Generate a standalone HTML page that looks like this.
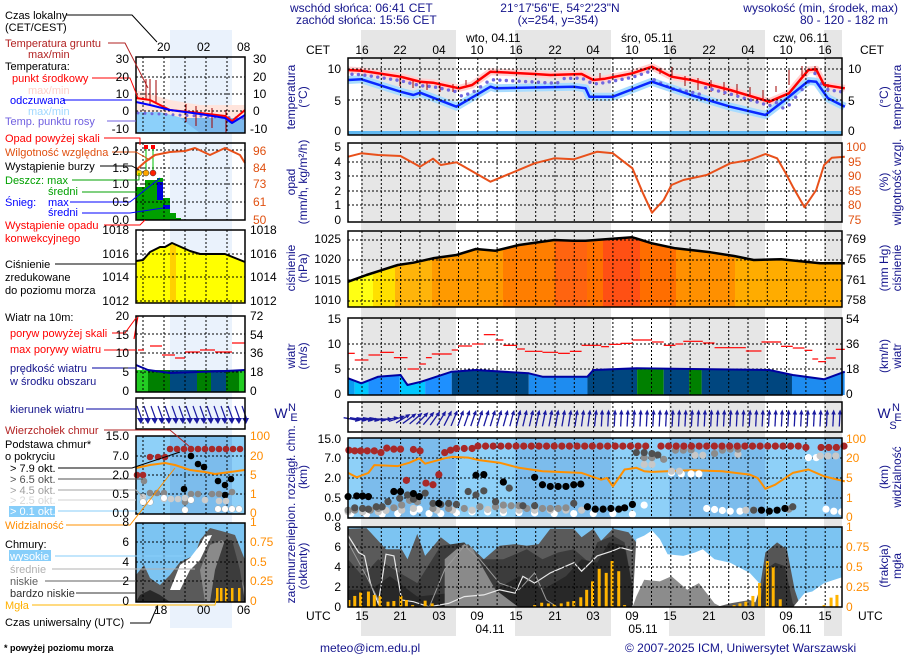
<!DOCTYPE html>
<html><head><meta charset="utf-8"><style>
body{margin:0;background:#fff;}
svg{display:block;font-family:"Liberation Sans",sans-serif;}
</style></head><body>
<svg id="s" width="910" height="660" viewBox="0 0 910 660" xmlns="http://www.w3.org/2000/svg">
<g id="bg"></g>
<g id="g"></g>
<g font-size="12" fill="#000">
<g fill="#14148c">
<text x="290" y="12">wschód słońca: 06:41 CET</text>
<text x="296" y="24">zachód słońca: 15:56 CET</text>
<text x="560" y="12" text-anchor="middle">21°17'56"E, 54°2'23"N</text>
<text x="558" y="24" text-anchor="middle">(x=254, y=354)</text>
<text x="898" y="12" text-anchor="end">wysokość (min, środek, max)</text>
<text x="844" y="24" text-anchor="middle">80 - 120 - 182 m</text>
</g>
<text x="466" y="42">wto, 04.11</text>
<text x="621" y="42">śro, 05.11</text>
<text x="773" y="42">czw, 06.11</text>
<text x="306" y="54">CET</text><text x="860" y="54">CET</text>
<g text-anchor="middle">
<text x="362" y="54">16</text><text x="400" y="54">22</text><text x="439" y="54">04</text><text x="477" y="54">10</text>
<text x="516" y="54">16</text><text x="555" y="54">22</text><text x="593" y="54">04</text><text x="632" y="54">10</text>
<text x="670" y="54">16</text><text x="709" y="54">22</text><text x="748" y="54">04</text><text x="786" y="54">10</text><text x="825" y="54">16</text>
<text x="362" y="620">15</text><text x="400" y="620">21</text><text x="439" y="620">03</text><text x="477" y="620">09</text>
<text x="516" y="620">15</text><text x="555" y="620">21</text><text x="593" y="620">03</text><text x="632" y="620">09</text>
<text x="670" y="620">15</text><text x="709" y="620">21</text><text x="748" y="620">03</text><text x="786" y="620">09</text><text x="825" y="620">15</text>
<text x="490" y="633">04.11</text><text x="643" y="633">05.11</text><text x="797" y="633">06.11</text>
</g>
<text x="306" y="620">UTC</text><text x="858" y="620">UTC</text>
<g text-anchor="end">
<text x="341" y="73">10</text><text x="341" y="105">5</text><text x="341" y="135">0</text>
<text x="341" y="151">5</text><text x="341" y="166">4</text><text x="341" y="180">3</text><text x="341" y="195">2</text><text x="341" y="209">1</text><text x="341" y="224">0</text>
<text x="341" y="243">1025</text><text x="341" y="263">1020</text><text x="341" y="284">1015</text><text x="341" y="304">1010</text>
<text x="341" y="323">15</text><text x="341" y="348">10</text><text x="341" y="373">5</text><text x="341" y="398">0</text>
<text x="341" y="443">15.0</text><text x="341" y="462">7.0</text><text x="341" y="482">2.0</text><text x="341" y="502">0.5</text><text x="341" y="521">0.0</text>
<text x="341" y="531">8</text><text x="341" y="551">6</text><text x="341" y="571">4</text><text x="341" y="591">2</text><text x="341" y="611">0</text>
</g>
<g>
<text x="848" y="73">10</text><text x="848" y="105">5</text><text x="848" y="135">0</text>
<g fill="#e05010"><text x="846" y="151">100</text><text x="848" y="166">95</text><text x="848" y="180">90</text><text x="848" y="195">85</text><text x="848" y="209">80</text><text x="848" y="224">75</text></g>
<text x="846" y="243">769</text><text x="846" y="263">765</text><text x="846" y="284">761</text><text x="846" y="304">758</text>
<text x="846" y="323">54</text><text x="846" y="348">36</text><text x="846" y="373">18</text><text x="846" y="398">0</text>
<g fill="#ff8c00"><text x="846" y="443">100</text><text x="846" y="462">20</text><text x="846" y="482">5</text><text x="846" y="502">1</text><text x="846" y="521">0</text>
<text x="846" y="531">1</text><text x="846" y="551">0.75</text><text x="846" y="571">0.5</text><text x="846" y="591">0.25</text><text x="846" y="611">0</text></g>
</g>
<g fill="#14148c" text-anchor="middle">
<text transform="translate(295,97) rotate(-90)">temperatura</text>
<text transform="translate(307,97) rotate(-90)">(°C)</text>
<text transform="translate(295,182) rotate(-90)">opad</text>
<text transform="translate(307,182) rotate(-90)">(mm/h, kg/m²/h)</text>
<text transform="translate(295,268) rotate(-90)">ciśnienie</text>
<text transform="translate(307,268) rotate(-90)">(hPa)</text>
<text transform="translate(295,356) rotate(-90)">wiatr</text>
<text transform="translate(307,356) rotate(-90)">(m/s)</text>
<text transform="translate(295,477) rotate(-90)">pion. rozciągł. chm.</text>
<text transform="translate(307,477) rotate(-90)">(km)</text>
<text transform="translate(295,566) rotate(-90)">zachmurzenie</text>
<text transform="translate(307,566) rotate(-90)">(oktanty)</text>
<text transform="translate(888,97) rotate(-90)">(°C)</text>
<text transform="translate(901,97) rotate(-90)">temperatura</text>
<text transform="translate(888,182) rotate(-90)">(%)</text>
<text transform="translate(901,182) rotate(-90)">wilgotność wzgl.</text>
<text transform="translate(888,268) rotate(-90)">(mm Hg)</text>
<text transform="translate(901,268) rotate(-90)">ciśnienie</text>
<text transform="translate(888,356) rotate(-90)">(km/h)</text>
<text transform="translate(901,356) rotate(-90)">wiatr</text>
<text transform="translate(888,477) rotate(-90)">(km)</text>
<text transform="translate(901,477) rotate(-90)">widzialność</text>
<text transform="translate(888,566) rotate(-90)">(frakcja)</text>
<text transform="translate(901,566) rotate(-90)">mgła</text>
<text x="884" y="418" font-size="14">W</text><text x="896" y="411" font-size="11">N</text><text x="898" y="421" font-size="11">E</text><text x="893" y="429" font-size="11">S</text>
<text x="281" y="418" font-size="14">W</text><text x="292" y="411" font-size="11">N</text><text x="294" y="421" font-size="11">E</text>
</g>
<g fill="#14148c"><text x="320" y="652">meteo@icm.edu.pl</text><text x="625" y="652">© 2007-2025 ICM, Uniwersytet Warszawski</text></g>
<text x="4" y="651" font-size="9" font-weight="bold">* powyżej poziomu morza</text>

<g font-size="11">
<text x="5" y="19">Czas lokalny</text><text x="5" y="31">(CET/CEST)</text>
<text x="5" y="47" fill="#b22222">Temperatura gruntu</text><text x="28" y="58" fill="#b22222">max/min</text>
<text x="5" y="70">Temperatura:</text>
<text x="12" y="82" fill="#ff0000">punkt środkowy</text>
<text x="28" y="94" fill="#ffd0c8">max/min</text>
<text x="10" y="104" fill="#0000ff">odczuwana</text>
<text x="28" y="115" fill="#a0d8ff">max/min</text>
<text x="5" y="125" fill="#7060e0">Temp. punktu rosy</text>
<text x="5" y="142" fill="#ff0000">Opad powyżej skali</text>
<text x="5" y="156" fill="#e05010">Wilgotność względna</text>
<text x="5" y="170">Wystąpienie burzy</text>
<text x="5" y="184" fill="#00a000">Deszcz: max</text><text x="48" y="195" fill="#00a000">średni</text>
<text x="5" y="206" fill="#0000ff">Śnieg:</text><text x="48" y="206" fill="#0000ff">max</text><text x="48" y="216" fill="#0000ff">średni</text>
<text x="5" y="229" fill="#ff0000">Wystąpienie opadu</text><text x="5" y="242" fill="#ff0000">konwekcyjnego</text>
<text x="5" y="268">Ciśnienie</text><text x="5" y="281">zredukowane</text><text x="5" y="294">do poziomu morza</text>
<text x="5" y="321">Wiatr na 10m:</text>
<text x="10" y="337" fill="#ff0000">poryw powyżej skali</text>
<text x="10" y="353" fill="#ff0000">max porywy wiatru</text>
<text x="10" y="372" fill="#14148c">prędkość wiatru</text><text x="10" y="385" fill="#14148c">w środku obszaru</text>
<text x="10" y="413" fill="#14148c">kierunek wiatru</text>
<text x="5" y="434" fill="#b22222">Wierzchołek chmur</text>
<text x="5" y="448">Podstawa chmur*</text><text x="5" y="460">o pokryciu</text>
<text x="10" y="472">&gt; 7.9 okt.</text>
<text x="10" y="483" fill="#505050">&gt; 6.5 okt.</text>
<text x="10" y="494" fill="#a0a0a0">&gt; 4.5 okt.</text>
<text x="10" y="504" fill="#d8d8d8">&gt; 2.5 okt.</text>
<rect x="9" y="506" width="46" height="11" fill="#87cefa"/><text x="10" y="515" fill="#fff">&gt; 0.1 okt.</text>
<text x="5" y="529" fill="#ff8c00">Widzialność</text>
<text x="5" y="548">Chmury:</text>
<rect x="9" y="550" width="42" height="11" fill="#87cefa"/><text x="10" y="560" fill="#fff">wysokie</text>
<text x="10" y="573" fill="#b0b0b0">średnie</text>
<text x="10" y="585" fill="#606060">niskie</text>
<text x="10" y="597" fill="#303030">bardzo niskie</text>
<text x="5" y="609" fill="#ffb000">Mgła</text>
<text x="5" y="626">Czas uniwersalny (UTC)</text>
</g>
<text x="157" y="51">20</text><text x="197" y="51">02</text><text x="237" y="51">08</text>
<text x="154" y="614">18</text><text x="197" y="614">00</text><text x="237" y="614">06</text>
<g text-anchor="end">
<text x="129" y="63">30</text><text x="129" y="81">20</text><text x="129" y="98">10</text><text x="129" y="115">0</text><text x="129" y="133">-10</text>
<text x="129" y="155">2.0</text><text x="129" y="172">1.5</text><text x="129" y="188">1.0</text><text x="129" y="206">0.5</text><text x="129" y="224">0.0</text>
<text x="129" y="234">1018</text><text x="129" y="258">1016</text><text x="129" y="281">1014</text><text x="129" y="305">1012</text>
<text x="129" y="320">20</text><text x="129" y="339">15</text><text x="129" y="357">10</text><text x="129" y="376">5</text><text x="129" y="395">0</text>
<text x="129" y="440">15.0</text><text x="129" y="460">7.0</text><text x="129" y="479">2.0</text><text x="129" y="498">0.5</text><text x="129" y="517">0.0</text>
<text x="129" y="526">8</text><text x="129" y="546">6</text><text x="129" y="566">4</text><text x="129" y="585">2</text><text x="129" y="605">0</text>
</g>
<g>
<text x="253" y="63">30</text><text x="253" y="81">20</text><text x="253" y="98">10</text><text x="253" y="115">0</text><text x="250" y="133">-10</text>
<g fill="#e05010"><text x="253" y="155">96</text><text x="253" y="172">84</text><text x="253" y="188">73</text><text x="253" y="206">61</text><text x="253" y="224">50</text></g>
<text x="250" y="234">1018</text><text x="250" y="258">1016</text><text x="250" y="281">1014</text><text x="250" y="305">1012</text>
<text x="250" y="320">72</text><text x="250" y="339">54</text><text x="250" y="357">36</text><text x="250" y="376">18</text><text x="250" y="395">0</text>
<g fill="#ff8c00"><text x="250" y="440">100</text><text x="250" y="460">20</text><text x="250" y="479">5</text><text x="250" y="498">1</text><text x="250" y="517">0</text>
<text x="250" y="526">1</text><text x="250" y="546">0.75</text><text x="250" y="566">0.5</text><text x="250" y="585">0.25</text><text x="250" y="605">0</text></g>
</g>
</g>
</svg>
<script>
(function(){
var NS="http://www.w3.org/2000/svg";
var BG=document.getElementById('bg'),G=document.getElementById('g');
function el(t,a,p){var e=document.createElementNS(NS,t);for(var k in a)e.setAttribute(k,a[k]);(p||G).appendChild(e);return e;}
function X(z){return 300+z/2.557;}
function pts(a){return a.map(function(p){return p[0].toFixed(1)+','+p[1].toFixed(1);}).join(' ');}
function line(a,c,w,extra){var o={points:pts(a),fill:'none',stroke:c,'stroke-width':w,'stroke-linejoin':'round'};for(var k in extra)o[k]=extra[k];return el('polyline',o);}
function area(a,base,c,p){var b=a.slice();b.push([a[a.length-1][0],base]);b.unshift([a[0][0],base]);return el('polygon',{points:pts(b),fill:c},p);}
function rect(x,y,w,h,c,p){return el('rect',{x:x,y:y,width:w,height:h,fill:c},p);}
var L=348,R=842;
rect(170,30,62,598,'#eaf2fc',BG);
[[361,456],[515,611],[669,765],[824,842]].forEach(function(b){rect(b[0],30,b[1]-b[0],606,'#e6e6e6',BG);});
var gridX=[];for(var k=0;k<25;k++)gridX.push(362+19.3*k);
function vgrid(y1,y2){gridX.forEach(function(x){el('line',{x1:x,y1:y1,x2:x,y2:y2,stroke:'#000','stroke-width':1,'stroke-dasharray':'2,2'});});}
function hgrid(ys,x1,x2){ys.forEach(function(y){el('line',{x1:x1,y1:y,x2:x2,y2:y,stroke:'#000','stroke-width':1,'stroke-dasharray':'2,2'});});}
function frame(x1,y1,x2,y2){el('rect',{x:x1,y:y1,width:x2-x1,height:y2-y1,fill:'none',stroke:'#000','stroke-width':1.5});}

rect(L,131,R-L,4,'#60b8f0');
var red=[[123,210],[157,212],[257,230],[290,240],[307,245],[340,248],[407,265],[440,255],[487,215],[600,222],[640,225],[720,222],[750,240],[780,236],[850,220],[900,200],[950,230],[1000,240],[1100,270],[1200,305],[1250,280],[1300,210],[1320,208],[1340,255],[1393,265]].map(function(p){return [X(p[0]),p[1]/3];});
var blue=[[123,240],[157,238],[257,275],[290,285],[307,278],[400,320],[487,260],[500,265],[700,260],[730,265],[740,290],[800,290],[900,245],[1000,285],[1100,320],[1190,345],[1240,300],[1300,243],[1320,245],[1350,295],[1393,320]].map(function(p){return [X(p[0]),p[1]/3];});
line(red,'#ffd2d2',7);line(blue,'#a8dcff',8);
[[400,78,86],[413,80,88],[427,82,90],[440,83,92],[453,84,92],[466,80,85],[600,73,78],[613,73,78],[660,68,74],[672,67,76],[685,76,86],[698,78,90],[711,80,92],[724,82,95],[737,84,96],[750,87,97],[763,90,99],[776,86,92],[789,70,85],[802,66,78],[815,66,74],[828,84,92]].forEach(function(b){el('line',{x1:b[0],y1:b[1],x2:b[0],y2:b[2],stroke:'#a00000','stroke-width':1});});
for(var x=352;x<R;x+=6.43){var y;
 var i=0;while(i<red.length-2&&red[i+1][0]<x)i++;var a=red[i],b=red[i+1];y=a[1]+(b[1]-a[1])*(x-a[0])/(b[0]-a[0]);
 var d=4; if(x>460&&x<610)d=8; if(x>560&&x<640)d=4; if(x>652&&x<700)d=12; if(x>700&&x<770)d=4; if(x>780&&x<810)d=12;
 el('circle',{cx:x,cy:y+d,r:1.7,fill:'#7068e0'});}
line(red,'#ff0000',2.5);line(blue,'#0a28ff',2.5);
vgrid(58,135);hgrid([69,100],L,R);frame(L,58,R,135);

var rh=[[123,470],[157,460],[200,465],[257,468],[307,500],[340,476],[360,495],[400,487],[487,545],[600,490],[650,475],[700,478],[760,455],[800,460],[850,505],[877,580],[900,638],[930,600],[950,555],[980,540],[1040,525],[1100,490],[1150,480],[1190,462],[1220,475],[1240,515],[1260,560],[1290,622],[1320,570],[1340,495],[1360,473],[1393,470]].map(function(p){return [X(p[0]),p[1]/3];});
vgrid(143,222);hgrid([162,176,191,205],L,R);
line(rh,'#e8501a',2);frame(L,143,R,222);

var pr=[[123,185],[170,165],[250,135],[290,128],[340,115],[400,105],[450,87],[500,92],[560,75],[650,60],[700,62],[730,62],[850,52],[900,70],[960,85],[1050,97],[1110,108],[1160,120],[1230,118],[1330,130],[1393,130]].map(function(p){return [X(p[0]),220+p[1]/3];});
var cols=[[348,373,'#ffff14'],[373,395,'#ffe000'],[395,432,'#ffb40a'],[432,503,'#ff9a00'],[503,555,'#ff7e00'],[555,587,'#ff6410'],[587,603,'#ff7000'],[603,640,'#ff5014'],[640,676,'#ff6e00'],[676,735,'#ff9000'],[735,842,'#ffac00']];
var cp=el('clipPath',{id:'cpp'});area(pr,307,'#000',cp);
var gp=el('g',{'clip-path':'url(#cpp)'});cols.forEach(function(c){rect(c[0],231,c[1]-c[0],77,c[2],gp);});
vgrid(231,307);hgrid([240,260,280,301],L,R);
line(pr,'#000',2.5);frame(L,231,R,307);

var wd=[[123,475],[157,490],[200,470],[257,465],[275,495],[310,485],[388,455],[450,450],[585,460],[620,470],[735,470],[750,450],[860,445],[1000,447],[1200,450],[1260,465],[1340,478],[1393,455]].map(function(p){return [X(p[0]),220+p[1]/3];});
var wc=[[123,140,'#0a9cf0'],[140,175,'#00c8ff'],[175,255,'#1e90ff'],[255,320,'#00c8ff'],[320,388,'#1e90ff'],[388,585,'#00467f'],[585,735,'#1e8cf0'],[735,862,'#00467f'],[862,930,'#008000'],[930,995,'#00467f'],[995,1027,'#008000'],[1027,1258,'#00467f'],[1258,1393,'#1e8cf0']];
var cw=el('clipPath',{id:'cpw'});area(wd,395,'#000',cw);
var gw=el('g',{'clip-path':'url(#cpw)'});wc.forEach(function(c){rect(X(c[0]),318,X(c[1])-X(c[0]),77,c[2],gw);});
vgrid(318,395);hgrid([344,369],L,R);
line(wd,'#0000a0',2);
[[123,140,400],[140,175,420],[175,205,405],[205,240,397],[240,275,413],[275,305,447],[305,322,432],[322,337,413],[337,388,402],[388,404,390],[404,440,378],[440,470,372],[470,500,344],[500,520,360],[520,555,376],[555,575,387],[575,620,394],[620,660,397],[660,690,400],[690,720,394],[720,770,376],[770,790,380],[790,820,373],[820,850,370],[850,900,360],[900,930,366],[930,960,376],[960,980,372],[980,1030,364],[1030,1060,369],[1060,1140,383],[1140,1180,393],[1180,1230,366],[1230,1260,379],[1260,1290,384],[1290,1310,391],[1310,1325,417],[1325,1345,425],[1345,1370,414],[1370,1393,388]].forEach(function(s){el('line',{x1:X(s[0]),y1:220+s[2]/3,x2:X(s[1]),y2:220+s[2]/3,stroke:'#ff0000','stroke-width':1.2});});
frame(L,318,R,395);

vgrid(402,432);
for(var x=351;x<R;x+=6.43){var ang;
 if(x<380)ang=100; else if(x<400)ang=95-(x-380)*1.5; else if(x<460)ang=60-(x-400)*0.7; else if(x<600)ang=20-(x-460)*0.1; else ang=3;
 var rad=ang*Math.PI/180,len=15,cx=x,cy=419;
 var dx=Math.sin(rad)*len/2,dy=-Math.cos(rad)*len/2;
 el('line',{x1:cx-dx,y1:cy-dy,x2:cx+dx,y2:cy+dy,stroke:'#1a1aa0','stroke-width':1.3});
 var hx=cx+dx,hy=cy+dy,ux=Math.sin(rad),uy=-Math.cos(rad);
 el('polygon',{points:[hx+ux*2,hy+uy*2,hx-ux*3-uy*2.2,hy-uy*3+ux*2.2,hx-ux*3+uy*2.2,hy-uy*3-ux*2.2].join(','),fill:'#1a1aa0'});}
frame(L,402,R,432);

rect(L,438,R-L,80,'#8ed0f8');
[[361,456],[515,611],[669,765],[824,842]].forEach(function(b){rect(b[0],438,b[1]-b[0],80,'#7cbcec');});
vgrid(438,518);hgrid([458,478,498],L,R);
function Y2(z){return 400+z/2.95;}
var vis=[[123,215],[145,228],[175,215],[190,192],[250,195],[280,185],[305,172],[320,188],[370,172],[390,168],[430,170],[460,178],[510,185],[560,200],[620,210],[720,215],[770,235],[785,230],[800,255],[830,205],[860,200],[880,210],[900,212],[1000,207],[1080,210],[1150,220],[1170,230],[1190,262],[1215,250],[1260,215],[1300,205],[1340,225],[1393,240]].map(function(p){return [X(p[0]),Y2(p[1])];});
line(vis,'#ff9000',2);
function dots(arr,c,st){arr.forEach(function(p){var o={cx:X(p[0]),cy:Y2(p[1]),r:3.6,fill:c};if(st){o.stroke=st;o['stroke-width']=0.6;}el('circle',o);});}
dots([[130,335],[170,337],[210,337],[250,335],[290,330],[305,322],[330,335],[360,335],[400,333],[440,330],[480,330],[520,332],[560,332],[600,333],[650,335],[700,335],[750,335],[800,335],[850,337],[880,310],[950,215],[975,218],[1000,218],[1020,218],[1040,320],[1060,323],[1080,326],[1100,328],[1125,328],[1300,170],[1320,170],[1345,322],[1365,328],[1385,330]],'#fff');
dots([[123,330],[160,330],[200,330],[220,326],[260,325],[290,320],[350,325],[390,325],[440,325],[480,323],[520,325],[560,325],[600,325],[640,325],[680,325],[720,325],[880,190],[900,190],[950,210],[970,210],[1010,163],[1030,163],[1120,160],[1140,325],[1160,325],[1330,165],[1350,165],[1370,165]],'#c8c8c8');
dots([[123,325],[140,325],[180,325],[200,320],[240,318],[260,310],[280,296],[300,300],[340,320],[380,320],[420,320],[460,315],[500,315],[520,310],[540,312],[560,312],[580,320],[620,320],[640,320],[660,320],[680,318],[880,170],[900,170],[930,175],[960,148],[980,148],[1000,147],[1060,158],[1080,148],[1100,145],[1120,145],[1250,322]],'#8c8c8c');
dots([[140,318],[160,320],[175,322],[195,315],[210,315],[225,300],[255,290],[275,280],[290,293],[320,275],[340,305],[360,308],[380,305],[400,308],[430,270],[450,280],[470,268],[500,300],[535,260],[570,312],[600,312],[700,305],[860,155],[880,155],[900,158],[915,162],[1160,325],[1260,315]],'#505050');
dots([[123,285],[145,283],[160,283],[175,285],[240,270],[257,270],[290,276],[305,285],[355,305],[450,222],[470,220],[520,242],[600,228],[620,250],[640,255],[660,255],[680,255],[700,250],[718,248],[735,315],[755,322],[775,322],[795,320],[815,322],[830,318],[850,308],[1180,325],[1200,328],[1220,325],[1240,320]],'#000');
var rd=[[125,148],[140,150],[155,150],[172,150],[190,150],[207,155],[222,142],[240,145],[257,145],[272,237],[290,146],[307,150],[322,245],[340,250],[355,220],[370,155],[385,148],[400,143],[420,143],[440,143]];
for(var z=455;z<1395;z+=19.5){if(Math.abs(z-905)<8||Math.abs(z-1315)<5)continue;rd.push([z,z>1280&&z<1380?140:136]);}
dots(rd,'#a82828');
frame(L,438,R,518);

rect(L,527,R-L,80,'#7cc4f2');
var cc=el('clipPath',{id:'cpc'});rect(L,527,R-L,80,'#000',cc);
var gc=el('g',{'clip-path':'url(#cpc)'});
function P(a,c){el('polygon',{points:pts(a.map(function(p){return [X(p[0]),Y2(p[1])];})),fill:c},gc);}
P([[123,612],[123,380],[170,378],[180,390],[220,440],[260,440],[275,470],[300,395],[320,460],[360,405],[400,440],[430,425],[470,470],[510,430],[550,425],[580,430],[610,425],[640,380],[700,380],[720,405],[750,380],[770,415],[800,380],[840,390],[860,420],[880,612]],'#5a5a5a');
P([[123,612],[123,470],[160,520],[200,470],[240,500],[300,540],[360,430],[420,420],[460,470],[520,470],[580,440],[620,470],[660,450],[700,440],[740,480],[760,420],[800,400],[830,420],[860,612]],'#3c3c3c');
P([[123,612],[123,560],[180,560],[230,520],[300,580],[380,570],[450,540],[500,560],[560,520],[620,560],[680,520],[720,470],[760,480],[790,420],[830,430],[860,612]],'#282828');
P([[370,612],[370,470],[400,440],[420,425],[440,435],[460,480],[500,560],[560,612]],'#8a8a8a');
P([[850,612],[860,410],[880,400],[900,385],[920,410],[940,455],[980,460],[1010,450],[1030,440],[1060,470],[1100,480],[1150,510],[1190,560],[1220,600],[1240,612]],'#ffffff');
P([[850,612],[860,580],[880,530],[920,535],[950,520],[990,560],[1020,540],[1060,600],[1080,612]],'#8c8c8c');
P([[1060,612],[1100,600],[1150,590],[1170,600],[1190,612]],'#606060');
P([[1160,612],[1175,560],[1190,450],[1220,420],[1245,440],[1265,560],[1280,612]],'#555555');
P([[1175,612],[1190,500],[1215,480],[1240,490],[1260,600],[1270,612]],'#333333');
P([[1260,612],[1290,570],[1310,565],[1340,540],[1393,520],[1393,612]],'#ffffff');
el('polyline',{points:pts([[123,400],[150,450],[165,460],[180,540],[200,600],[220,455],[240,460],[260,590],[290,595],[330,610],[380,600],[420,580],[470,575],[510,560],[550,570],[570,520],[600,540],[640,510],[700,480],[720,505],[760,460],[800,445],[820,435],[850,445]].map(function(p){return [X(p[0]),Y2(p[1])];})),fill:'none',stroke:'#e8e8e8','stroke-width':1.2},gc);
el('polyline',{points:pts([[123,420],[170,520],[210,612],[330,612],[370,500],[420,430],[460,470],[510,540],[560,560],[600,510],[630,590],[660,612]].map(function(p){return [X(p[0]),Y2(p[1])];})),fill:'none',stroke:'#9a9a9a','stroke-width':1},gc);
[[125,590],[140,578],[155,568],[175,565],[190,575],[205,578],[225,595],[240,593],[258,578],[272,590],[288,605],[320,592],[338,600],[600,605],[618,598],[635,600],[650,603],[668,600],[685,595],[700,593],[718,582],[733,560],[748,535],[765,498],[783,510],[798,475],[815,505],[830,605],[1110,605],[1125,600],[1140,595],[1158,578],[1175,540],[1195,475],[1210,492],[1228,588],[1340,605],[1358,583],[1373,575],[1390,560]].forEach(function(b){var x=X(b[0]),y=Y2(b[1]);rect(x-1.5,y,3,607-y,'#ffb400',gc);});
vgrid(527,607);hgrid([547,567,587],L,R);
frame(L,527,R,607);

var ml=136,mr=245,mg=[143,164,185,206,227];
function mvgrid(y1,y2){mg.forEach(function(x){el('line',{x1:x,y1:y1,x2:x,y2:y2,stroke:'#000','stroke-dasharray':'2,2'});});}
el('polygon',{points:'136,90 170,100 200,105 245,105 245,133 136,133',fill:'#ffe4dc'});
el('polygon',{points:'136,112 160,112 190,120 230,124 245,118 245,133 136,133',fill:'#8cd0fa'});
el('polygon',{points:'180,118 245,118 245,133 200,133',fill:'#7cb8ec'});
mvgrid(57,133);hgrid([77,94,111],ml,mr);
[[146,79,100],[150,79,104],[156,80,104],[186,104,122],[196,106,126],[212,108,128],[226,110,133]].forEach(function(b){el('line',{x1:b[0],y1:b[1],x2:b[0],y2:b[2],stroke:'#a00000'});});
for(var x=138;x<245;x+=7)el('circle',{cx:x,cy:113+(x-138)*0.05,r:1.5,fill:'#7068e0'});
line([[136,98],[150,100],[170,110],[200,113],[225,116],[232,121],[245,110]],'#ff0000',2);
line([[136,102],[150,105],[170,110],[200,114],[225,118],[232,123],[245,115]],'#0000ff',2);
frame(ml,57,mr,133);
[[136,145,187],[145,157,180],[157,163,178],[163,170,198],[170,176,213],[176,181,218]].forEach(function(b){rect(b[0],b[2],b[1]-b[0],220-b[2],'#00a000');});
rect(157,182,6,18,'#0000dd');rect(163,205,7,4,'#0000dd');
mvgrid(143,220);hgrid([150,168,184,202],ml,mr);
[[146,147],[153,147]].forEach(function(p){el('line',{x1:p[0],y1:p[1],x2:p[0],y2:173,stroke:'#00c000'});rect(p[0]-2,p[1]-2,4,4,'#ff0000');});
[[139,'#ffd700'],[146,'#ffa500'],[153,'#ff2000']].forEach(function(p){el('circle',{cx:p[0],cy:173,r:3,fill:p[1],stroke:'#333','stroke-width':0.5});});
line([[136,170],[145,162],[155,155],[170,152],[185,151],[195,148],[210,155],[225,148],[240,155],[245,163]],'#e8501a',2);
frame(ml,143,mr,220);
el('polygon',{points:'136,261 143,260 150,252 160,247 165,247 172,243 190,251 200,254 225,254 245,262 245,303 136,303',fill:'#ffff00'});
rect(170,245,6,58,'#ffd000');
mvgrid(230,303);hgrid([254,277,301],ml,mr);
line([[136,261],[143,260],[150,252],[160,247],[165,247],[172,243],[190,251],[200,254],[225,254],[245,262]],'#000',2);
frame(ml,230,mr,303);
[[136,148,'#22cc22'],[148,170,'#008000'],[170,197,'#004a80'],[197,211,'#008000'],[211,226,'#004a80'],[226,239,'#008000'],[239,245,'#22cc22']].forEach(function(c){rect(c[0],370,c[1]-c[0],22,c[2]);});
mvgrid(316,392);hgrid([334,353,372],ml,mr);
line([[136,365],[148,370],[170,373],[197,372],[226,371],[245,370]],'#0000a0',2);
[[138,144,350],[150,162,346],[162,175,355],[175,185,358],[185,200,352],[200,215,350],[215,232,352],[232,245,343]].forEach(function(s){el('line',{x1:s[0],y1:s[2],x2:s[1],y2:s[2],stroke:'#ff0000','stroke-width':1.2});});
el('line',{x1:134,y1:339,x2:138,y2:316,stroke:'#ff0000','stroke-width':1.2});
frame(ml,316,mr,392);
mvgrid(398,429);
for(var x=139;x<250;x+=7){el('line',{x1:x-2,y1:406,x2:x+3,y2:420,stroke:'#1a1aa0','stroke-width':1.2});el('polygon',{points:(x-2)+',418 '+(x+5)+',418 '+(x+2)+',424',fill:'#1a1aa0'});}
frame(ml,398,mr,429);
rect(ml,436,mr-ml,78,'#8ed0f8');rect(170,436,62,78,'#7cbcec');
mvgrid(436,514);hgrid([456,475,494],ml,mr);
line([[136,468],[150,465],[165,463],[175,465],[190,470],[205,472],[215,474],[230,472],[245,470]],'#ff9000',2);
for(var x=170;x<246;x+=7)el('circle',{cx:x,cy:449,r:3.3,fill:'#a82828'});
[[150,457],[158,457],[165,457],[137,475],[143,475]].forEach(function(p){el('circle',{cx:p[0],cy:p[1],r:3.3,fill:'#a82828'});});
[[191,456],[198,464],[204,467],[218,481],[225,485],[231,479],[184,489],[225,495]].forEach(function(p){el('circle',{cx:p[0],cy:p[1],r:3.3,fill:'#000'});});
[[144,481],[150,493],[157,493],[164,493],[185,502],[191,494],[198,494],[212,494],[219,494],[232,492]].forEach(function(p){el('circle',{cx:p[0],cy:p[1],r:3.3,fill:'#888'});});
[[164,499],[171,499],[178,499],[205,500],[219,501],[226,501],[143,497],[185,498]].forEach(function(p){el('circle',{cx:p[0],cy:p[1],r:3.3,fill:'#ccc'});});
[[143,502],[150,502],[164,498],[191,500],[218,509],[225,509],[232,509],[239,509],[185,510]].forEach(function(p){el('circle',{cx:p[0],cy:p[1],r:3.3,fill:'#fff',stroke:'#999','stroke-width':0.4});});
frame(ml,436,mr,514);
rect(ml,523,mr-ml,79,'#7cc4f2');
el('polygon',{points:'136,602 136,575 144,565 150,578 160,585 170,575 180,562 195,555 200,540 210,528 225,532 235,535 245,560 245,602',fill:'#5a5a5a'});
el('polygon',{points:'170,590 180,565 190,558 200,545 205,536 212,535 200,560 190,570 180,590',fill:'#ffffff'});
el('polygon',{points:'200,570 210,545 222,540 232,552 245,590 245,602 205,602',fill:'#8a8a8a'});
el('polygon',{points:'210,602 215,570 225,540 232,540 240,570 245,602',fill:'#3c3c3c'});
el('polygon',{points:'136,602 140,595 150,590 160,595 170,602',fill:'#282828'});
[[217,588],[221,588],[226,588],[232,588],[239,588]].forEach(function(b){rect(b[0]-1,b[1],2.5,602-b[1],'#ffb400');});
mvgrid(523,602);hgrid([542,562,581],ml,mr);
frame(ml,523,mr,602);

function ll(a,c){line(a,c,1);}
ll([[66,15],[132,15],[157,42]],'#000');
ll([[108,43],[125,43],[148,88]],'#b22222');
ll([[92,78],[130,78],[138,98]],'#ff0000');
ll([[63,100],[132,100]],'#0000ff');
ll([[107,121],[136,121]],'#7060e0');
ll([[104,138],[140,138],[140,145]],'#ff0000');
ll([[112,152],[136,152],[150,160]],'#e05010');
ll([[100,166],[132,166],[139,170]],'#000');
ll([[72,180],[139,180],[139,173]],'#00a000');
ll([[82,192],[145,192]],'#00a000');
ll([[70,202],[130,202],[160,178]],'#0000ff');
ll([[82,213],[130,213],[163,208]],'#0000ff');
ll([[104,225],[140,225],[145,220]],'#ff0000');
ll([[55,264],[136,264]],'#000');
ll([[112,333],[125,333],[136,318]],'#ff0000');
ll([[104,350],[136,350]],'#ff0000');
ll([[92,368],[136,368]],'#0000a0');
ll([[86,409],[136,409]],'#0000a0');
ll([[104,430],[170,430],[190,447]],'#b22222');
ll([[58,468],[132,468],[180,452]],'#000');
ll([[58,479],[143,479]],'#505050');
ll([[58,490],[136,490],[143,497]],'#a0a0a0');
ll([[58,500],[136,500]],'#d0d0d0');
ll([[58,511],[140,511]],'#87cefa');
ll([[66,525],[130,525],[175,468]],'#ff9000');
ll([[55,556],[185,556]],'#87cefa');
ll([[52,569],[195,569]],'#b0b0b0');
ll([[45,581],[136,581]],'#606060');
ll([[76,593],[136,593]],'#303030');
ll([[32,605],[215,605],[217,595]],'#ffb400');
ll([[130,623],[150,623],[157,607]],'#000');
})();
</script>
</body></html>
